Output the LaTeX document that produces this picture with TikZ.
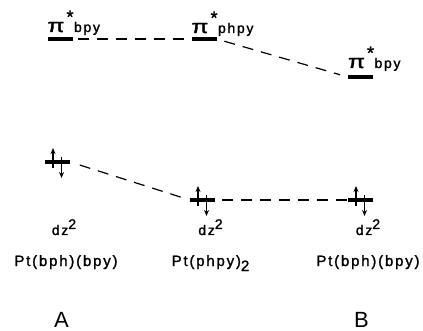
\documentclass[tikz,border=0pt]{standalone}
\usepackage{fontspec}
\setmainfont{Liberation Sans}
\newfontfamily\labfont[LetterSpace=12,FakeBold=1.5]{Liberation Sans}
\usetikzlibrary{arrows.meta,positioning}
\newcommand{\pistar}[1]{{\fontsize{19}{19}\selectfont\scalebox{1.3}[1]{π}}\hspace{2pt}\raisebox{9pt}{\fontsize{18}{18}\selectfont *}\hspace{0.5pt}#1}
\newcommand{\spinpair}[1]{%
  \draw[spin] ([shift={(-4.5,6)}]#1.center) -- ++(0,-20);
  \draw[spin] ([shift={(4,-5)}]#1.center) -- ++(0,21);}

\begin{document}
\begin{tikzpicture}[x=1pt,y=-1pt,
  level/.style={fill=black,minimum width=25pt,minimum height=3.5pt,inner sep=0pt},
  corr/.style={line width=1.2pt,dash pattern=on 11pt off 8pt},
  spin/.style={line width=1.6pt,-{Stealth[length=6pt,width=5pt]}},
  lab/.style={font=\labfont\fontsize{14}{16}\selectfont,inner sep=0pt},
  cmpd/.style={font=\labfont\fontsize{15}{17}\selectfont,inner sep=0pt},
  tag/.style={font=\fontsize{22}{24}\selectfont,inner sep=0pt}]
  \useasboundingbox (0,0) rectangle (423,331);
  % pi* levels
  \node[level] (pA) at (60,39) {};
  \node[level] (pC) at (204,39) {};
  \node[level] (pB) at (360.5,77) {};
  \node[lab,anchor=base west] (tA) at ([shift={(0,-7)}]pA.west) {\pistar{bpy}};
  \node[lab,anchor=base west] (tC) at ([shift={(0,-6)}]pC.west) {\pistar{phpy}};
  \node[lab,anchor=base west] (tB) at ([shift={(0,-9)}]pB.west) {\pistar{bpy}};
  % dz2 levels
  \node[level] (dA) at (57.5,162) {};
  \node[level] (dC) at (202.5,200) {};
  \node[level] (dB) at (360.5,200) {};
  \spinpair{dA}
  \spinpair{dC}
  \spinpair{dB}
  \node[lab,anchor=base] (zA) at ([shift={(6.5,73)}]dA.center) {dz\raisebox{6pt}{2}};
  \node[lab,anchor=base] (zC) at ([shift={(8,35)}]dC.center) {dz\raisebox{6pt}{2}};
  \node[lab,anchor=base] (zB) at ([shift={(7.5,35)}]dB.center) {dz\raisebox{6pt}{2}};
  % correlation lines
  \draw[corr,shorten <=5pt] (pA.east) -- (pC.west);
  \draw[corr,shorten <=8pt,shorten >=8pt] (pC.east) -- (pB.west);
  \draw[corr,shorten <=10pt,shorten >=5pt] (dA.east) -- (dC.west);
  \draw[corr,shorten <=7pt] (dC.east) -- (dB.west);
  % complexes
  \node[cmpd,anchor=base] (cA) at ([shift={(2,31)}]zA.base) {Pt(bph)(bpy)};
  \node[cmpd,anchor=base] (cC) at ([shift={(0,31)}]zC.base) {Pt(phpy)\raisebox{-5pt}{2}};
  \node[cmpd,anchor=base] (cB) at ([shift={(0,31)}]zB.base) {Pt(bph)(bpy)};
  \node[tag,anchor=base] (nA) at (61.5,327) {A};
  \node[tag,anchor=base] (nB) at (361.5,327) {B};
\end{tikzpicture}
\end{document}
